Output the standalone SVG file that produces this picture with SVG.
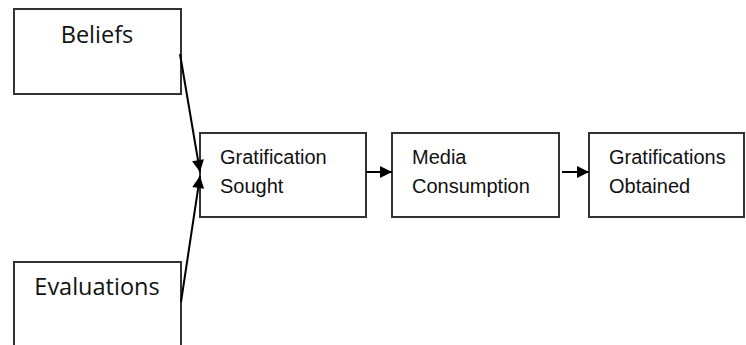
<svg xmlns="http://www.w3.org/2000/svg" width="746" height="345" viewBox="0 0 746 345">
<style>
.box{fill:#fff;stroke:#333;stroke-width:2}
.cal{font-family:"Open Sans","Noto Sans",sans-serif;font-size:23.5px;fill:#111;text-anchor:middle}
.ar{font-family:"Liberation Sans",Arial,sans-serif;font-size:20px;fill:#111}
.ln{stroke:#000;stroke-width:2;fill:none}
</style>
<defs>
<marker id="ah2" viewBox="0 0 10 10" refX="10" refY="5" markerWidth="14" markerHeight="12" markerUnits="userSpaceOnUse" orient="auto">
<path d="M0,0 L10,5 L0,10 z" fill="#000"/>
</marker>
</defs>
<rect width="746" height="345" fill="#fff"/>
<g id="beliefs">
<rect class="box" x="14" y="9" width="167" height="85"/>
<text class="cal" x="97" y="43">Beliefs</text>
</g>
<g id="evaluations">
<rect class="box" x="14" y="262" width="167" height="100"/>
<text class="cal" x="97" y="295">Evaluations</text>
</g>
<g id="sought">
<rect class="box" x="200" y="133" width="166" height="84"/>
<text class="ar" x="220" y="164">Gratification</text>
<text class="ar" x="220" y="193">Sought</text>
</g>
<g id="consumption">
<rect class="box" x="392" y="133" width="167" height="84"/>
<text class="ar" x="412" y="164">Media</text>
<text class="ar" x="412" y="193">Consumption</text>
</g>
<g id="obtained">
<rect class="box" x="589" y="133" width="155" height="84"/>
<text class="ar" x="609" y="164">Gratifications</text>
<text class="ar" x="609" y="193">Obtained</text>
</g>
<g id="connectors">
<line class="ln" x1="180" y1="54" x2="200" y2="172" marker-end="url(#ah2)"/>
<line class="ln" x1="181" y1="302" x2="200" y2="176" marker-end="url(#ah2)"/>
<line class="ln" x1="366" y1="172" x2="392" y2="172" marker-end="url(#ah2)"/>
<line class="ln" x1="562" y1="172" x2="589" y2="172" marker-end="url(#ah2)"/>
</g>
</svg>
